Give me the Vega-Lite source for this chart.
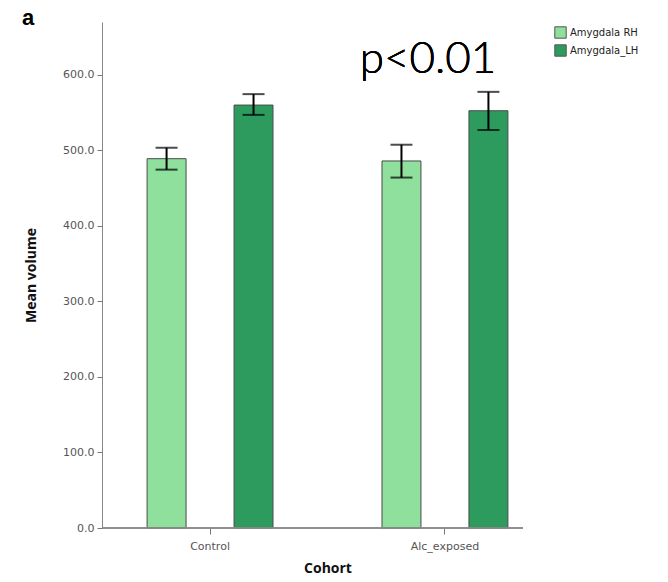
{
  "$schema": "https://vega.github.io/schema/vega-lite/v6.json",
  "autosize": "none",
  "width": 421,
  "height": 506,
  "padding": {"left": 102, "top": 22, "right": 145, "bottom": 54},
  "background": "white",
  "config": {"view": {"stroke": null}},
  "title": {"text": "a", "anchor": "start", "frame": "group", "dx": -80, "dy": 0, "fontSize": 22, "fontWeight": "bold", "font": "Liberation Sans", "color": "black", "offset": -8},
  "data": {"values": [
    {"Cohort": "Control", "Hemisphere": "Amygdala RH", "mean": 489, "lo": 474.5, "hi": 503.5},
    {"Cohort": "Control", "Hemisphere": "Amygdala_LH", "mean": 560, "lo": 547, "hi": 574.5},
    {"Cohort": "Alc_exposed", "Hemisphere": "Amygdala RH", "mean": 486, "lo": 464, "hi": 507.5},
    {"Cohort": "Alc_exposed", "Hemisphere": "Amygdala_LH", "mean": 552.5, "lo": 527, "hi": 577.5}
  ]},
  "encoding": {
    "x": {"field": "Cohort", "type": "nominal", "sort": ["Control", "Alc_exposed"],
      "scale": {"range": [0, 451], "paddingInner": 0.1, "paddingOuter": 0.01},
      "axis": {"title": "Cohort", "labelAngle": 0, "domain": false, "tickColor": "#777", "tickSize": 6, "labelFont": "DejaVu Sans", "labelFontSize": 11, "labelColor": "#555", "labelPadding": 6, "titleFont": "Open Sans", "titleFontSize": 14, "titleFontWeight": "bold", "titleColor": "#111", "titlePadding": 10}},
    "xOffset": {"field": "Hemisphere", "type": "nominal", "sort": ["Amygdala RH", "Amygdala_LH"],
      "scale": {"paddingInner": 0.552, "paddingOuter": 0.4915}}
  },
  "layer": [
    {
      "mark": {"type": "bar", "stroke": "#4a4a4a", "strokeWidth": 1},
      "encoding": {
        "y": {"field": "mean", "type": "quantitative", "scale": {"domain": [0, 670], "nice": false},
          "axis": {"title": "Mean volume", "values": [0, 100, 200, 300, 400, 500, 600], "format": ".1f", "grid": false, "domainColor": "#888", "tickColor": "#777", "tickSize": 5, "labelFont": "DejaVu Sans", "labelFontSize": 11, "labelColor": "#555", "labelPadding": 3, "titleFont": "Open Sans", "titleFontSize": 14, "titleFontWeight": "bold", "titleColor": "#111", "titlePadding": 24}},
        "color": {"field": "Hemisphere", "type": "nominal", "sort": ["Amygdala RH", "Amygdala_LH"],
          "scale": {"range": ["#8EE09C", "#2E9B5E"]},
          "legend": {"title": null, "orient": "none", "legendX": 452, "legendY": 4, "symbolType": "square", "symbolSize": 130, "symbolStrokeColor": "#555", "symbolStrokeWidth": 1, "labelFont": "DejaVu Sans", "labelFontSize": 10, "labelColor": "#222", "rowPadding": 1, "labelOffset": 3}}
      }
    },
    {
      "mark": {"type": "rule", "color": "black", "strokeWidth": 2},
      "encoding": {"y": {"field": "lo", "type": "quantitative"}, "y2": {"field": "hi"}}
    },
    {
      "mark": {"type": "tick", "color": "black", "thickness": 2, "size": 22},
      "encoding": {"y": {"field": "lo", "type": "quantitative"}}
    },
    {
      "mark": {"type": "tick", "color": "black", "thickness": 2, "size": 22},
      "encoding": {"y": {"field": "hi", "type": "quantitative"}}
    },
    {
      "mark": {"type": "rule", "color": "#888", "strokeWidth": 1},
      "encoding": {"y": {"datum": 0}, "x": null, "xOffset": null}
    },
    {
      "mark": {"type": "text", "text": "p<0.01", "font": "Lato", "fontWeight": 300, "fontSize": 44, "color": "black", "dx": -17, "baseline": "alphabetic", "align": "center"},
      "encoding": {"x": {"datum": "Alc_exposed"}, "y": {"datum": 603}, "xOffset": null}
    }
  ]
}
